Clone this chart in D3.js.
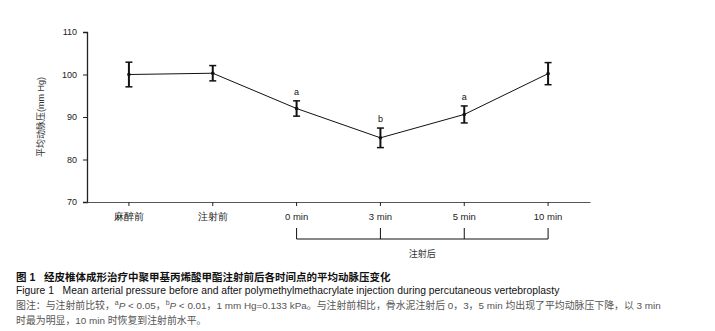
<!DOCTYPE html>
<html>
<head>
<meta charset="utf-8">
<script src="https://cdn.jsdelivr.net/npm/d3@7"></script>
<style>
  body { margin: 0; background: #fff; }
  svg { display: block; font-family: "Liberation Sans", Arial, "Noto Sans CJK SC", sans-serif; }
</style>
</head>
<body>
<div id="chart"></div>
<script>
// categories along the x axis
var categories = ["麻醉前", "注射前", "0 min", "3 min", "5 min", "10 min"];
// mean arterial pressure (mm Hg) and error bar half-widths
var meanValues = [100.0, 100.3, 92.0, 85.1, 90.6, 100.2];
var errValues = [2.9, 1.8, 1.8, 2.3, 2.0, 2.6];
// significance marks
var sigMarks = ["", "", "a", "b", "a", ""];
var yTicks = [70, 80, 90, 100, 110];
var afterGroup = ["0 min", "3 min", "5 min", "10 min"];

var W = 715, H = 331;
var margin = {left: 87, right: 125, top: 32, bottom: 129};
var width = W - margin.left - margin.right,
    height = H - margin.top - margin.bottom;

var svg = d3.select("#chart")
  .append("svg")
    .attr("width", W)
    .attr("height", H);

var g = svg.append("g")
    .attr("transform", "translate(" + margin.left + "," + margin.top + ")");

var x = d3.scaleBand()
    .domain(categories)
    .range([0, width]);

var y = d3.scaleLinear()
    .domain([70, 110])
    .range([height, 0]);

var cx = function(d) { return x(d) + x.bandwidth() / 2; };

// y axis
var yAxis = g.append("g")
    .call(d3.axisLeft(y).tickValues(yTicks).tickSize(4).tickPadding(6));
yAxis.select(".domain").attr("stroke", "#222").attr("stroke-width", 1.3);
yAxis.selectAll(".tick line").attr("stroke", "#222");
yAxis.selectAll("text").attr("font-size", 9).attr("fill", "#222");

// x axis
var xAxis = g.append("g")
    .attr("transform", "translate(0," + height + ")")
    .call(d3.axisBottom(x).tickSize(4).tickSizeOuter(0).tickPadding(7));
xAxis.select(".domain").attr("stroke", "#555").attr("stroke-width", 1);
xAxis.selectAll(".tick line").attr("stroke", "#222");
xAxis.selectAll("text").attr("font-size", 9.5).attr("fill", "#222");

// y label
g.append("text")
    .attr("transform", "translate(-43," + y(90) + ") rotate(-90)")
    .attr("text-anchor", "middle")
    .attr("font-size", 9)
    .attr("fill", "#333")
    .text("平均动脉压(mm Hg)");

var data = categories.map(function(c, i) {
  return {cat: c, v: meanValues[i], e: errValues[i], s: sigMarks[i]};
});

// line
var line = d3.line()
    .x(function(d) { return cx(d.cat); })
    .y(function(d) { return y(d.v); });

g.append("path")
    .datum(data)
    .attr("d", line)
    .attr("fill", "none")
    .attr("stroke", "#111")
    .attr("stroke-width", 1);

// error bars
var eb = g.selectAll(".eb").data(data).enter().append("g");
eb.append("line")
    .attr("x1", function(d) { return cx(d.cat); })
    .attr("x2", function(d) { return cx(d.cat); })
    .attr("y1", function(d) { return y(d.v + d.e); })
    .attr("y2", function(d) { return y(d.v - d.e); })
    .attr("stroke", "#111").attr("stroke-width", 2);
[1, -1].forEach(function(sgn) {
  eb.append("line")
      .attr("x1", function(d) { return cx(d.cat) - 3.5; })
      .attr("x2", function(d) { return cx(d.cat) + 3.5; })
      .attr("y1", function(d) { return y(d.v + sgn * d.e); })
      .attr("y2", function(d) { return y(d.v + sgn * d.e); })
      .attr("stroke", "#111").attr("stroke-width", 1.5);
});
eb.append("circle")
    .attr("cx", function(d) { return cx(d.cat); })
    .attr("cy", function(d) { return y(d.v); })
    .attr("r", 1.8)
    .attr("fill", "#111");

// significance letters
eb.append("text")
    .attr("x", function(d) { return cx(d.cat); })
    .attr("y", function(d) { return y(d.v + d.e) - 6; })
    .attr("text-anchor", "middle")
    .attr("font-size", 9)
    .attr("fill", "#111")
    .text(function(d) { return d.s; });

// bracket for after-injection group
var by = height + 37;
var x0 = cx(afterGroup[0]), x1 = cx(afterGroup[afterGroup.length - 1]);
g.append("line")
    .attr("x1", x0).attr("x2", x1)
    .attr("y1", by).attr("y2", by)
    .attr("stroke", "#111").attr("stroke-width", 1);
g.selectAll(".bt").data(afterGroup).enter().append("line")
    .attr("x1", cx).attr("x2", cx)
    .attr("y1", by - 11).attr("y2", by)
    .attr("stroke", "#111").attr("stroke-width", 1);
g.append("text")
    .attr("x", (x0 + x1) / 2)
    .attr("y", by + 18)
    .attr("text-anchor", "middle")
    .attr("font-size", 9)
    .attr("fill", "#333")
    .text("注射后");

// caption
var cap = svg.append("g").attr("font-size", 10.5);
cap.append("text")
    .attr("x", 16).attr("y", 281)
    .attr("fill", "#111")
    .attr("font-weight", "bold")
    .attr("xml:space", "preserve")
    .text("图 1   经皮椎体成形治疗中聚甲基丙烯酸甲酯注射前后各时间点的平均动脉压变化");
cap.append("text")
    .attr("x", 16).attr("y", 294)
    .attr("fill", "#111")
    .attr("font-size", 10.35)
    .attr("xml:space", "preserve")
    .text("Figure 1   Mean arterial pressure before and after polymethylmethacrylate injection during percutaneous vertebroplasty");
var n1 = cap.append("text")
    .attr("x", 16).attr("y", 309)
    .attr("font-size", 9.9)
    .attr("fill", "#555");
n1.append("tspan").text("图注：与注射前比较，");
n1.append("tspan").attr("font-size", 7).attr("dy", -4).text("a");
n1.append("tspan").attr("dy", 4).attr("font-style", "italic").text("P");
n1.append("tspan").text(" < 0.05，");
n1.append("tspan").attr("font-size", 7).attr("dy", -4).text("b");
n1.append("tspan").attr("dy", 4).attr("font-style", "italic").text("P");
n1.append("tspan").text(" < 0.01，1 mm Hg=0.133 kPa。与注射前相比，骨水泥注射后 0，3，5 min 均出现了平均动脉压下降，以 3 min");
cap.append("text")
    .attr("x", 16).attr("y", 324)
    .attr("font-size", 9.9)
    .attr("fill", "#555")
    .text("时最为明显，10 min 时恢复到注射前水平。");
</script>
</body>
</html>
